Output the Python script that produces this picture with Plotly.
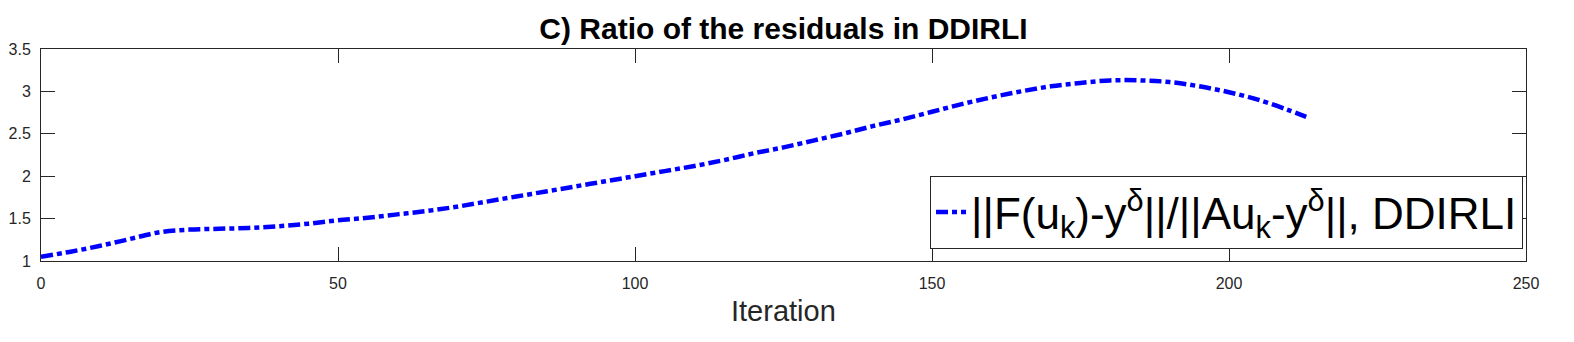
import plotly.graph_objects as go

# ratio of residuals per iteration
iterations = [0, 5, 10, 15, 20, 25, 30, 35, 40, 45, 50, 55, 60, 65, 70, 75, 80, 85,
              90, 95, 100, 105, 110, 115, 120, 125, 130, 135, 140, 145, 150, 155,
              160, 165, 170, 175, 180, 185, 190, 195, 200, 205, 210, 213]
ratio = [1.05, 1.11, 1.18, 1.26, 1.34, 1.37, 1.38, 1.39, 1.41, 1.44, 1.48, 1.51,
         1.55, 1.59, 1.64, 1.70, 1.76, 1.82, 1.88, 1.94, 2.00, 2.06, 2.12, 2.19,
         2.27, 2.34, 2.42, 2.50, 2.59, 2.67, 2.76, 2.85, 2.93, 3.00, 3.06, 3.10,
         3.13, 3.13, 3.11, 3.06, 2.99, 2.90, 2.78, 2.70]

x_ticks = [0, 50, 100, 150, 200, 250]
y_ticks = [1, 1.5, 2, 2.5, 3, 3.5]
y_ticklabels = ['1', '1.5', '2', '2.5', '3', '3.5']

FONT = "Liberation Sans, Arial, sans-serif"
AX = '#262626'

# the page body has an 8px margin, so the figure is sized to fit the window
W, H = 1566, 334

fig = go.Figure()
fig.add_trace(go.Scatter(
    x=iterations, y=ratio,
    mode='lines',
    line=dict(color='#0000ff', width=4.5, dash='12px,4px,5px,4px', shape='spline'),
    name='||F(u<sub>k</sub>)-y<sup>δ</sup>||/||Au<sub>k</sub>-y<sup>δ</sup>||, DDIRLI',
))

axis_common = dict(
    showline=True, linecolor=AX, linewidth=1, mirror='ticks',
    ticks='inside', ticklen=14, tickcolor=AX, tickwidth=1,
    showgrid=False, zeroline=False, automargin=False,
    tickfont=dict(family=FONT, size=16, color=AX),
)

fig.update_layout(
    width=W, height=H,
    plot_bgcolor='white', paper_bgcolor='white',
    margin=dict(l=33, r=48, t=41, b=81),
    font=dict(family=FONT, color='black'),
    title=dict(text='<b>C) Ratio of the residuals in DDIRLI</b>',
               x=0.5, xref='paper', xanchor='center',
               y=1 - 20 / H, yref='container', yanchor='middle',
               font=dict(family=FONT, size=30, color='black')),
    xaxis=dict(range=[0, 250], tickvals=x_ticks, ticklabelstandoff=8, **axis_common),
    yaxis=dict(range=[1, 3.5], tickvals=y_ticks, ticktext=y_ticklabels,
               ticklabelstandoff=6, **axis_common),
    showlegend=True,
    legend=dict(x=0.998, xanchor='right', y=0.229, yanchor='middle',
                bgcolor='white', bordercolor=AX, borderwidth=1,
                font=dict(family=FONT, size=44, color='black')),
)

# x axis label
fig.add_annotation(text='Iteration', xref='paper', yref='paper',
                   x=0.5, y=-0.235, xanchor='center', yanchor='middle',
                   showarrow=False, font=dict(family=FONT, size=29, color=AX))

fig.write_html("out.html")
